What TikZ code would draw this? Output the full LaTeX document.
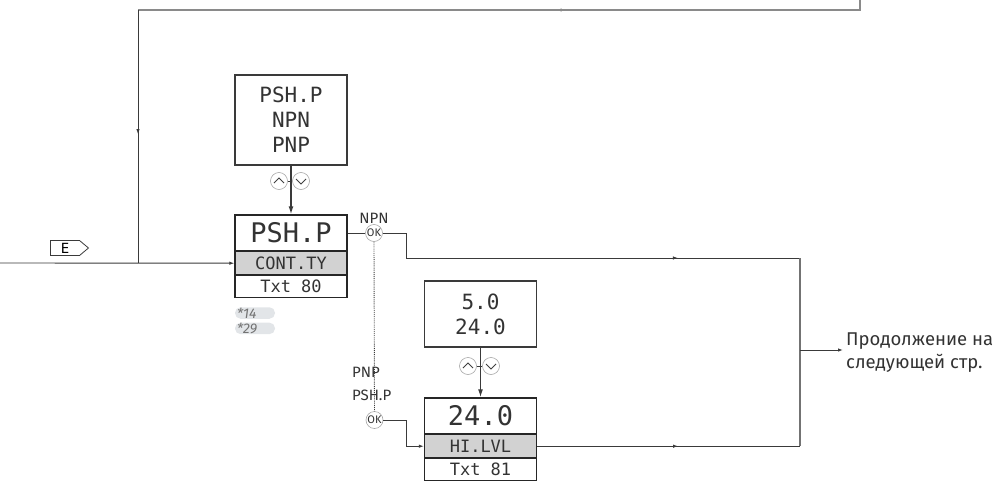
\documentclass[tikz,border=0pt]{standalone}
\usepackage{fontspec}
\setmainfont{Fira Sans}
\newfontfamily\lcdfont{DejaVu Sans Mono}
\usetikzlibrary{arrows.meta,positioning,shapes.symbols,decorations.markings}

\definecolor{wirecol}{HTML}{3A3A3A}
\definecolor{loopcol}{HTML}{8A8A8A}
\definecolor{rowgray}{HTML}{D2D2D2}
\definecolor{pillgray}{HTML}{E2E5E8}

\tikzset{
  wire/.style={draw=wirecol, line width=0.9pt},
  loopline/.style={draw=loopcol, line width=1.6pt},
  busline/.style={draw=black!55, line width=1.2pt},
  midarrow/.style={postaction={decorate}, decoration={markings,
      mark=at position #1 with {\arrow{Latex[length=5pt,width=3.5pt]}}}},
  endarrow/.style={-{Latex[length=5pt,width=3.5pt]}},
  listbox/.style={draw=wirecol, line width=1.1pt, minimum width=112pt, align=center,
      inner sep=0pt, text=black!80, font=\lcdfont\fontsize{21}{25}\selectfont},
  rowbox/.style={draw=black!85, line width=1.4pt, minimum width=112pt, inner sep=0pt,
      text=black!80, font=\lcdfont\fontsize{17}{17}\selectfont},
  bigrow/.style={rowbox, minimum height=36pt, font=\lcdfont\fontsize{27}{27}\selectfont},
  keyball/.style={circle, draw=black!35, line width=0.6pt, minimum size=17pt, inner sep=0pt},
  okball/.style={keyball, text=black!80, font=\fontsize{11}{11}\selectfont},
  chev/.style={draw=black!75, line width=0.8pt},
  tag/.style={text=black!80, font=\fontsize{15}{15}\selectfont, inner sep=0pt},
  pill/.style={fill=pillgray, rounded corners=5.5pt, minimum width=40pt, minimum height=11.5pt,
      inner sep=0pt, text=black!55, font=\itshape\fontsize{14}{14}\selectfont,
      text width=36pt, align=left}
}

\begin{document}
\begin{tikzpicture}[x=1pt, y=-1pt]
\useasboundingbox (0,0) rectangle (997,482);

% contact type
\node[listbox, minimum height=90pt] (list1) at (291,120) {PSH.P\\NPN\\PNP};
\node[bigrow] (pshp) at (291,233) {PSH.P};
\node[rowbox, minimum height=23pt, fill=rowgray, below=-0.7pt of pshp] (contty) {CONT.TY};
\node[rowbox, minimum height=22pt, below=-0.7pt of contty] (txt80) {Txt 80};

\node[keyball] (up1) at (279,181) {};
\node[keyball] (dn1) at (301,181) {};
\draw[wirecol, line width=1.3pt, -{Latex[length=8pt,width=5pt]}] (list1.south) -- (pshp.north);
\draw[wire] (up1.east) -- (dn1.west);

\node[pill] (note14) at (255,313) {*14};
\node[pill, below=3.5pt of note14] (note29) {*29};

% high level
\node[listbox, minimum height=66pt] (list2) at (480.5,314) {5.0\\24.0};
\node[bigrow] (lvl) at (480.5,416) {24.0};
\node[rowbox, minimum height=23pt, fill=rowgray, below=-0.7pt of lvl] (hilvl) {HI.LVL};
\node[rowbox, minimum height=22pt, below=-0.7pt of hilvl] (txt81) {Txt 81};

\node[keyball] (up2) at (468,366) {};
\node[keyball] (dn2) at (491,366) {};
\draw[wirecol, line width=1.3pt, -{Latex[length=8pt,width=5pt]}] (list2.south) -- (lvl.north);
\draw[wire] (up2.east) -- (dn2.west);

\foreach \b in {up1,up2}
  \draw[chev] ([shift={(-5,2)}]\b.center) -- ([shift={(0,-3)}]\b.center) -- ([shift={(5,2)}]\b.center);
\foreach \b in {dn1,dn2}
  \draw[chev] ([shift={(-5,-2)}]\b.center) -- ([shift={(0,3)}]\b.center) -- ([shift={(5,-2)}]\b.center);

% ok keys
\node[okball] (ok1) at (374,233) {OK};
\node[tag, above=1pt of ok1] (npnlbl) {NPN};
\node[okball] (ok2) at (374.5,420) {OK};
\node[tag, anchor=west] (pnplbl) at (352,372) {PNP};
\node[tag, anchor=west] (pshplbl) at (352,395) {PSH.P};

% entry and loop
\node[signal, signal to=east, signal pointer angle=80, draw=wirecol, line width=0.8pt,
      minimum width=38pt, minimum height=15pt, inner sep=0pt,
      font=\lcdfont\fontsize{14}{14}\selectfont] (ekey) at (65,248) {E};
\coordinate (ein) at (0,263);
\coordinate (looptop) at (860,0);
\coordinate (loopright) at (860,10);
\coordinate (loopleft) at (138,10);
\draw[wire, endarrow] (ein) -- (contty.west);
\draw[loopline, midarrow=0.428] (looptop) -- (loopright) -- (loopleft);
\draw[wire, midarrow=0.49] (loopleft) -- (loopleft |- contty.west);

% outputs
\coordinate (npnturn) at (406,258);
\coordinate (pnpturn) at ([xshift=-17.5pt]hilvl.west);
\coordinate (mergetop) at (800,258);
\coordinate (mergemid) at (800,350);
\coordinate (mergebot) at (hilvl.east -| mergetop);
\draw[wire] (pshp.east) -- (ok1.west);
\draw[wire] (ok1.east) -| (npnturn);
\draw[wire, midarrow=0.69] (npnturn) -- (mergetop);
\draw[wire, densely dotted] (ok1.south) -- (ok2.north);
\draw[wire, endarrow] (ok2.east) -| (pnpturn) -- (hilvl.west);
\draw[wire, midarrow=0.536] (hilvl.east) -- (mergebot);
\draw[busline] (mergetop) -- (mergebot);

\node[anchor=west, align=left, inner sep=3pt, text=black!80,
      font=\fontsize{18.5}{23}\selectfont] (nextpage) at (843,353) {Продолжение на\\следующей стр.};
\draw[wire, endarrow] (mergemid) -- (mergemid -| nextpage.west);
\end{tikzpicture}
\end{document}
